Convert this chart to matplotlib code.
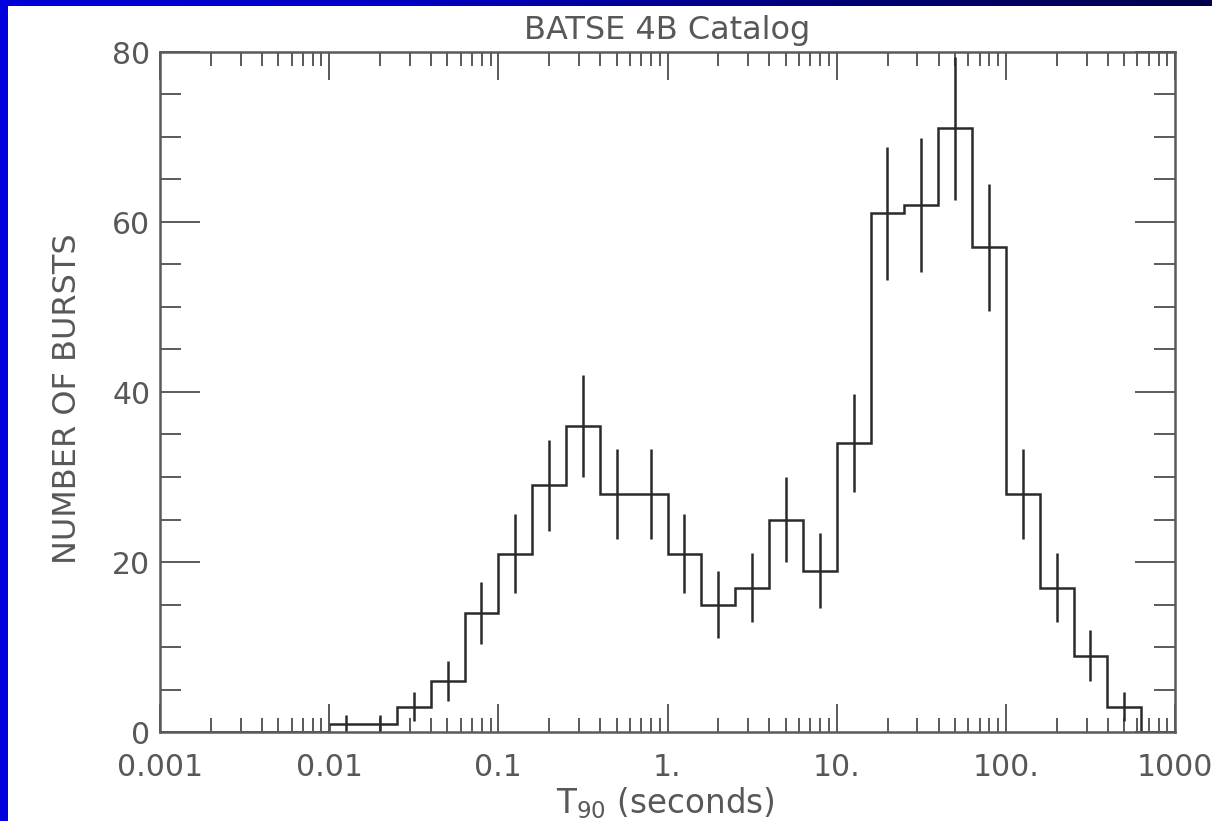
#!/usr/bin/env python3
"""
BATSE 4B catalog T90 duration histogram
"""

import numpy as np
import matplotlib
matplotlib.use('Agg')
import matplotlib.pyplot as plt
from matplotlib.colors import LinearSegmentedColormap
from matplotlib.patches import Rectangle
from matplotlib.ticker import FixedLocator, FixedFormatter, NullFormatter

# log10 bin edges, 0.2 dex wide, from 0.001 s to 1000 s
log_edges = np.linspace(-3.0, 3.0, 31)

# counts per bin
counts = [0, 0, 0, 0, 0,
          1, 1, 3, 6, 14, 21, 29, 36, 28, 28,
          21, 15, 17, 25, 19, 34, 61, 62, 71, 57,
          28, 17, 9, 3, 0]

# error bar half-lengths per bin
errors = [0, 0, 0, 0, 0,
          1.0, 1.0, 1.7, 2.4, 3.7, 4.6, 5.4, 6.0, 5.3, 5.3,
          4.6, 3.9, 4.1, 5.0, 4.4, 5.8, 7.8, 7.9, 8.4, 7.5,
          5.3, 4.1, 3.0, 1.7, 0]

x_tick_vals = [0.001, 0.01, 0.1, 1, 10, 100, 1000]
x_tick_labels = ['0.001', '0.01', '0.1', '1.', '10.', '100.', '1000']
y_tick_vals = [0, 20, 40, 60, 80]
y_tick_labels = ['0', '20', '40', '60', '80']

W, H = 1212, 821
text_col = '#585858'
axis_col = '#5a5a5a'
line_col = '#2a2a2a'
fs = 21.5

plt.rcParams['mathtext.default'] = 'regular'
plt.rcParams['font.family'] = ['DejaVu Sans']

fig = plt.figure(figsize=(W / 100, H / 100), dpi=100)
fig.patch.set_facecolor('white')

# blue frame: left strip and gradient top strip
fig.patches.append(Rectangle((0, 0), 8 / W, 1, transform=fig.transFigure,
                             facecolor='#0000dc', edgecolor='none', zorder=0))
ax_top = fig.add_axes([0, 1 - 6 / H, 1, 6 / H])
grad_cmap = LinearSegmentedColormap.from_list(
    'frame', ['#0000d8', '#0000c4', '#00007a', '#00004c'])
ax_top.imshow(np.linspace(0, 1, 256)[None, :], aspect='auto', cmap=grad_cmap,
              extent=[0, 1, 0, 1])
ax_top.set_axis_off()

# main plot
ax = fig.add_axes([160 / W, 1 - 732 / H, 1015 / W, 680 / H])
ax.set_xscale('log')

edges = 10 ** log_edges
centers = 10 ** (0.5 * (log_edges[:-1] + log_edges[1:]))

ax.stairs(counts, edges, color=line_col, linewidth=1.8, baseline=0)

cnt = np.array(counts, dtype=float)
err = np.array(errors, dtype=float)
has = err > 0
ax.vlines(centers[has], cnt[has] - err[has], cnt[has] + err[has],
          color=line_col, linewidth=1.8)

ax.set_xlim(1e-3, 1e3)
ax.set_ylim(0, 80)

for s in ax.spines.values():
    s.set_color(axis_col)
    s.set_linewidth(1.8)

# x ticks
ax.xaxis.set_major_locator(FixedLocator(x_tick_vals))
ax.xaxis.set_major_formatter(FixedFormatter(x_tick_labels))
minor_x = [m * 10.0 ** d for d in range(-3, 3) for m in range(2, 10)]
ax.xaxis.set_minor_locator(FixedLocator(minor_x))
ax.xaxis.set_minor_formatter(NullFormatter())

# y ticks
ax.yaxis.set_major_locator(FixedLocator(y_tick_vals))
ax.yaxis.set_major_formatter(FixedFormatter(y_tick_labels))
ax.yaxis.set_minor_locator(FixedLocator(list(range(5, 80, 5))))

ax.tick_params(axis='both', which='both', direction='in', top=True, right=True,
               color=axis_col, width=1.4, labelcolor=text_col, labelsize=fs)
ax.tick_params(axis='x', which='major', length=20, pad=15)
ax.tick_params(axis='x', which='minor', length=10)
ax.tick_params(axis='y', which='major', length=29, pad=7)
ax.tick_params(axis='y', which='minor', length=15)

# labels
fig.text(667 / W, 1 - 30 / H, 'BATSE 4B Catalog', ha='center', va='center',
         fontsize=23, color=text_col)
fig.text(68 / W, 1 - 399 / H, 'NUMBER OF BURSTS', ha='center', va='center',
         rotation=90, fontsize=23, color=text_col)
fig.text(665 / W, 1 - 803 / H, 'T$_{90}$ (seconds)', ha='center', va='center',
         fontsize=23.5, color=text_col)

plt.savefig('out.png', dpi=100)
